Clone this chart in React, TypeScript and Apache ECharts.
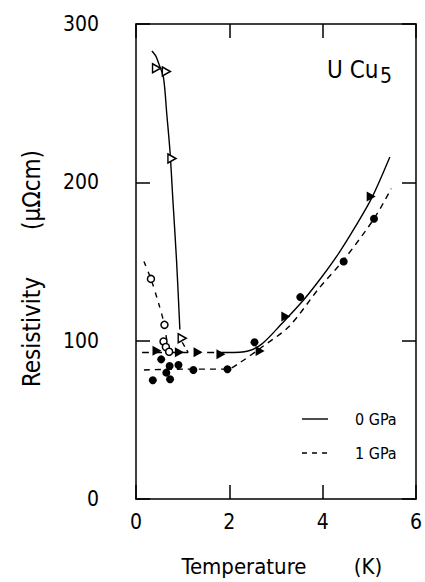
import React, { useEffect, useRef } from "react";
import * as echarts from "echarts";

// ---- data (T in K, resistivity in µΩcm) ----
const xTicks = [0, 2, 4, 6];
const yTicks = [0, 100, 200, 300];

// curves
const upturnSolid = [[0.34, 283], [0.42, 280], [0.5, 274], [0.59, 266], [0.66, 243], [0.73, 219], [0.79, 189], [0.87, 150], [0.94, 107]];
const hookDash = [[0.99, 99], [1.12, 92.5]];
const openCircleDash = [[0.17, 150], [0.32, 139], [0.48, 124], [0.61, 110], [0.66, 100], [0.7, 94]];
const flatDash0 = [[0.13, 92.5], [1.0, 92.5], [1.95, 92.5]];
const highSolid0 = [[1.95, 92.5], [2.4, 93.5], [2.7, 98], [3.1, 110], [3.6, 126], [4.0, 141], [4.34, 155], [4.7, 172], [5.05, 190], [5.44, 216]];
const lowerDash1 = [[0.17, 81.5], [1.0, 82], [1.96, 82], [2.22, 86], [2.7, 96], [3.28, 109], [3.92, 133], [4.45, 151], [5.1, 177], [5.47, 196]];

// markers
const openTriangles = [[0.44, 272], [0.65, 270], [0.77, 215], [0.99, 101.5]];
const openCircles = [[0.32, 139], [0.61, 110], [0.59, 99.5], [0.64, 96], [0.71, 93]];
const filledTriangles = [[0.45, 93.7], [0.93, 92.7], [1.33, 92.7], [1.82, 91.4], [2.66, 93.5], [3.21, 115.2], [5.04, 191]];
const filledCircles = [[0.36, 75], [0.54, 88.2], [0.65, 79.8], [0.73, 75.6], [0.72, 84], [0.91, 84.6], [1.23, 81.5], [1.96, 82], [2.54, 99], [3.52, 127.5], [4.45, 150], [5.1, 177]];

const legendNames = ["0 GPa", "1 GPa"];

const FONT = "'DejaVu Sans Condensed', 'Liberation Sans Narrow', 'DejaVu Sans', sans-serif";
const TRI = "path://M0,0L10,5L0,10Z";

export default function App() {
  const ref = useRef<HTMLDivElement>(null);
  useEffect(() => {
    if (!ref.current) return;
    const chart = echarts.init(ref.current, undefined, { renderer: "svg" });
    const lineBase = { type: "line", symbol: "none", smooth: 0.3, silent: true, z: 2, itemStyle: { color: "#000" } };
    const axisCommon = {
      type: "value",
      axisLine: { show: true, onZero: false, lineStyle: { color: "#000", width: 1.5 } },
      axisTick: { show: true, inside: true, length: 14, lineStyle: { color: "#000", width: 1.5 } },
      splitLine: { show: false },
    };
    chart.setOption({
      animation: false,
      backgroundColor: "#fff",
      grid: { left: 136, right: 6, top: 24, bottom: 83 },
      xAxis: [
        {
          ...axisCommon,
          min: 0, max: 6, interval: 2,
          axisLabel: { color: "#000", fontSize: 21, fontFamily: FONT, margin: 12, formatter: (v: number) => (xTicks.includes(v) ? String(v) : "") },
        },
        { ...axisCommon, position: "top", min: 0, max: 6, interval: 2, axisLabel: { show: false } },
      ],
      yAxis: [
        {
          ...axisCommon,
          min: 0, max: 300, interval: 100,
          axisLabel: { color: "#000", fontSize: 21, fontFamily: FONT, margin: 37, formatter: (v: number) => (yTicks.includes(v) ? String(v) : "") },
        },
        { ...axisCommon, position: "right", min: 0, max: 300, interval: 100, axisLabel: { show: false } },
      ],
      graphic: [
        { type: "text", left: 327, top: 58, style: { text: "U Cu", fontSize: 24, fontFamily: FONT, fill: "#000" } },
        { type: "text", left: 380, top: 65, style: { text: "5", fontSize: 21, fontFamily: FONT, fill: "#000" } },
        {
          type: "text", x: 32, y: 332, rotation: Math.PI / 2,
          style: { text: "Resistivity", fontSize: 24, fontFamily: FONT, fill: "#000", align: "center", verticalAlign: "middle" },
        },
        {
          type: "text", x: 32, y: 190, rotation: Math.PI / 2,
          style: { text: "(µΩcm)", fontSize: 24, fontFamily: FONT, fill: "#000", align: "center", verticalAlign: "middle" },
        },
        {
          type: "text", x: 244, y: 566,
          style: { text: "Temperature", fontSize: 22, fontFamily: FONT, fill: "#000", align: "center", verticalAlign: "middle" },
        },
        {
          type: "text", x: 368, y: 566,
          style: { text: "(K)", fontSize: 22, fontFamily: FONT, fill: "#000", align: "center", verticalAlign: "middle" },
        },
        // legend
        { type: "line", shape: { x1: 302, y1: 419, x2: 328, y2: 419 }, style: { stroke: "#000", lineWidth: 1.4 } },
        { type: "line", shape: { x1: 302, y1: 453, x2: 330, y2: 453 }, style: { stroke: "#000", lineWidth: 1.4, lineDash: [5, 5] } },
        { type: "text", x: 355, y: 419, style: { text: legendNames[0], fontSize: 16, fontFamily: FONT, fill: "#000", verticalAlign: "middle" } },
        { type: "text", x: 355, y: 453, style: { text: legendNames[1], fontSize: 16, fontFamily: FONT, fill: "#000", verticalAlign: "middle" } },
      ],
      series: [
        { ...lineBase, name: legendNames[0], data: highSolid0, lineStyle: { color: "#000", width: 1.4, type: "solid" } },
        { ...lineBase, name: legendNames[1], data: lowerDash1, lineStyle: { color: "#000", width: 1.4, type: [6, 5] } },
        { ...lineBase, name: "upturn", data: upturnSolid, lineStyle: { color: "#000", width: 1.4, type: "solid" } },
        { ...lineBase, name: "hook", data: hookDash, smooth: false, lineStyle: { color: "#000", width: 1.4, type: [5, 4] } },
        { ...lineBase, name: "openc", data: openCircleDash, lineStyle: { color: "#000", width: 1.4, type: [5, 6] } },
        { ...lineBase, name: "flat0", data: flatDash0, lineStyle: { color: "#000", width: 1.4, type: [7, 6] } },
        { type: "scatter", name: "ot", data: openTriangles, symbol: TRI, symbolSize: [8, 9], itemStyle: { color: "#fff", borderColor: "#000", borderWidth: 1.5, opacity: 1 }, z: 3 },
        { type: "scatter", name: "oc", data: openCircles, symbol: "circle", symbolSize: 7, itemStyle: { color: "#fff", borderColor: "#000", borderWidth: 1.5, opacity: 1 }, z: 3 },
        { type: "scatter", name: "ft", data: filledTriangles, symbol: TRI, symbolSize: [9, 10], itemStyle: { color: "#000", opacity: 1 }, z: 4 },
        { type: "scatter", name: "fc", data: filledCircles, symbol: "circle", symbolSize: 8, itemStyle: { color: "#000", opacity: 1 }, z: 4 },
      ],
    });
    return () => chart.dispose();
  }, []);
  return <div ref={ref} style={{ width: 425, height: 582, position: "absolute", left: 0, top: 0 }} />;
}
